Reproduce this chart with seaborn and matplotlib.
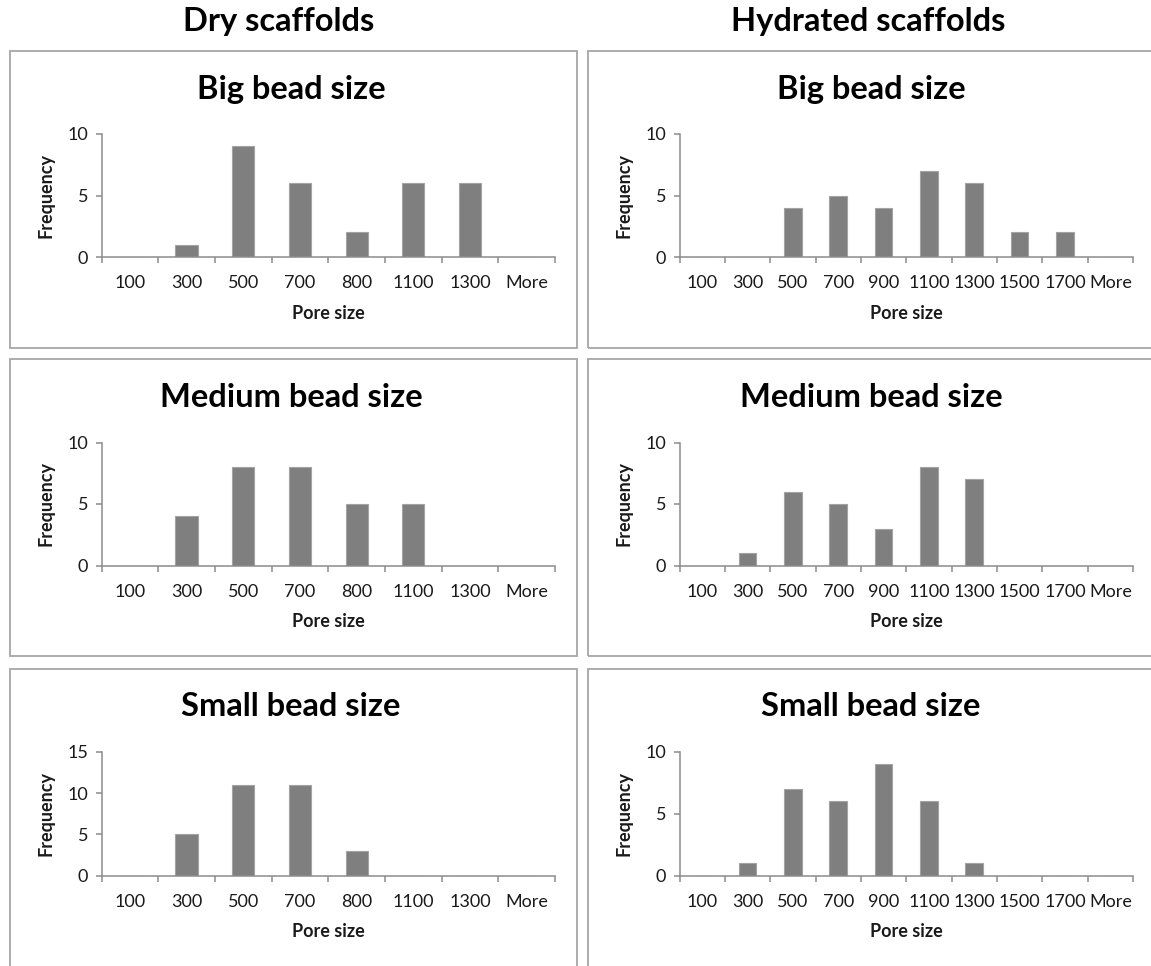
import matplotlib
matplotlib.use("Agg")
import matplotlib.pyplot as plt
import seaborn as sns
import pandas as pd
from matplotlib.patches import Rectangle

# Pore-size histogram bins
dry_bins = ["100", "300", "500", "700", "800", "1100", "1300", "More"]
hyd_bins = ["100", "300", "500", "700", "900", "1100", "1300", "1500", "1700", "More"]

# Frequencies, dry scaffolds
dry_big = [0, 1, 9, 6, 2, 6, 6, 0]
dry_medium = [0, 4, 8, 8, 5, 5, 0, 0]
dry_small = [0, 5, 11, 11, 3, 0, 0, 0]

# Frequencies, hydrated scaffolds
hyd_big = [0, 0, 4, 5, 4, 7, 6, 2, 2, 0]
hyd_medium = [0, 1, 6, 5, 3, 8, 7, 0, 0, 0]
hyd_small = [0, 1, 7, 6, 9, 6, 1, 0, 0, 0]

column_titles = ["Dry scaffolds", "Hydrated scaffolds"]
panel_titles = ["Big bead size", "Medium bead size", "Small bead size"]

W, H = 1151, 966
sns.set_theme(style="white")
plt.rcParams["font.family"] = ["Lato", "DejaVu Sans"]

fig = plt.figure(figsize=(W / 100, H / 100), dpi=100)
fig.patch.set_facecolor("white")

TEXT = "#1a1a1a"
AXIS = "#8c8c8c"
BAR = "#7f7f7f"


def fx(x):
    return x / W


def fy(y):
    return 1 - y / H


# column headings
fig.text(fx(279), fy(21), column_titles[0], ha="center", va="center",
         fontsize=23.5, fontweight="bold", color="black")
fig.text(fx(868), fy(21), column_titles[1], ha="center", va="center",
         fontsize=23.5, fontweight="bold", color="black")

# layout of each column: (box left, box right, axis left, axis right, title centre)
cols = [
    (9.5, 576.5, 101.5, 555.0, 291.0),
    (587.5, 1160.0, 679.5, 1133.0, 871.0),
]
# layout of each row: (box top, box bottom, axis top, axis bottom)
rows = [
    (50.5, 347.5, 134.0, 257.0),
    (358.5, 656.0, 442.5, 565.5),
    (668.5, 975.0, 752.0, 875.5),
]

panels = [
    [(dry_bins, dry_big, 10), (dry_bins, dry_medium, 10), (dry_bins, dry_small, 15)],
    [(hyd_bins, hyd_big, 10), (hyd_bins, hyd_medium, 10), (hyd_bins, hyd_small, 10)],
]

for ci, (bl, br, al, ar, tc) in enumerate(cols):
    for ri, (bt, bb, at, ab) in enumerate(rows):
        bins, freq, ymax = panels[ci][ri]

        # chart frame
        fig.patches.append(Rectangle((fx(bl), fy(bb)), fx(br) - fx(bl), fy(bt) - fy(bb),
                                     transform=fig.transFigure, fill=False,
                                     edgecolor="#a6a6a6", linewidth=1.3, zorder=0))

        ax = fig.add_axes([fx(al), fy(ab), fx(ar) - fx(al), fy(at) - fy(ab)])
        df = pd.DataFrame({"Pore size": bins, "Frequency": freq})
        sns.barplot(data=df, x="Pore size", y="Frequency", order=bins, color=BAR,
                    saturation=1, width=0.39, edgecolor="#a3a3a3", linewidth=0.8, ax=ax)
        n = len(bins)
        ax.set_xlim(-0.5, n - 0.5)
        ax.set_ylim(0, ymax)
        ax.set_yticks(range(0, ymax + 1, 5))
        ax.set_xticks(range(n))
        ax.set_xticklabels(bins)
        ax.set_xticks([i - 0.5 for i in range(n + 1)], minor=True)
        ax.tick_params(axis="x", which="major", length=0, pad=13, labelsize=13,
                       labelcolor=TEXT)
        ax.tick_params(axis="x", which="minor", length=4.5, width=1.1, color=AXIS,
                       direction="out", bottom=True)
        ax.tick_params(axis="y", which="major", length=4.5, width=1.1, color=AXIS,
                       direction="out", left=True, pad=5, labelsize=13, labelcolor=TEXT)
        for side in ("top", "right"):
            ax.spines[side].set_visible(False)
        for side in ("left", "bottom"):
            ax.spines[side].set_color(AXIS)
            ax.spines[side].set_linewidth(1.1)
        ax.set_xlabel("")
        ax.set_ylabel("")
        ax.grid(False)
        ax.set_facecolor("none")

        fig.text(fx(tc), fy(at - 45), panel_titles[ri],
                 ha="center", va="center", fontsize=23.5, fontweight="bold", color="black")
        fig.text(fx((al + ar) / 2), fy(ab + 56), "Pore size", ha="center", va="center",
                 fontsize=13, fontweight="bold", color=TEXT)
        fig.text(fx(al - 55), fy((at + ab) / 2), "Frequency", ha="center", va="center",
                 rotation=90, fontsize=13, fontweight="bold", color=TEXT)

fig.savefig("out.png", dpi=100, facecolor="white")
